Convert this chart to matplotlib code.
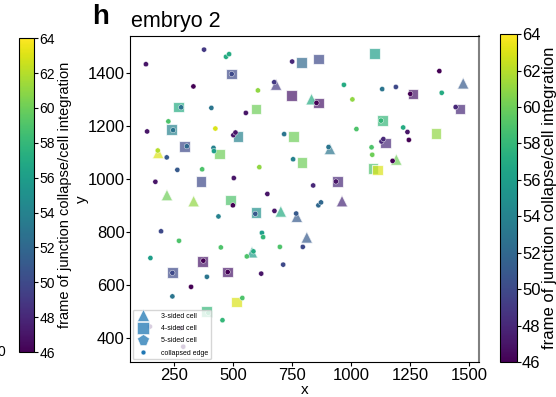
import numpy as np
import matplotlib
matplotlib.use('Agg')
import matplotlib.pyplot as plt
from matplotlib.lines import Line2D

plt.rcParams['font.family'] = ['Liberation Sans', 'DejaVu Sans']

# collapsed edges (circles)
edge_x = [377, 470, 483, 131, 750, 494, 674, 332, 605, 280, 408, 554, 226, 136, 246, 425,
          501, 510, 716, 181, 304, 417, 419, 219, 754, 264, 369, 611, 171, 503, 645,
          1373, 969, 1131, 1189, 1250, 1383, 1005, 853, 1442, 1126, 1022, 1220, 1238,
          1128, 1136, 1244, 904, 1086, 1089, 1175, 935, 839, 861, 872,
          499, 594, 675, 767, 438, 195, 622, 627, 271, 448, 698, 795, 586, 558, 150,
          374, 712, 243, 477, 389, 619, 322, 243, 539, 395, 455, 148, 278, 289]
edge_y = [1489, 1462, 1472, 1434, 1444, 1397, 1366, 1350, 1335, 1271, 1269, 1250, 1218, 1180,
          1185, 1191, 1166, 1176, 1170, 1108, 1124, 1118, 1106, 1082, 1075, 1035, 1037,
          1045, 990, 1004, 944,
          1408, 1356, 1340, 1348, 1322, 1326, 1301, 1288, 1272, 1221, 1189, 1195, 1178,
          1142, 1151, 1148, 1121, 1120, 1092, 1069, 991, 976, 901, 912,
          901, 869, 880, 870, 859, 803, 797, 781, 767, 742, 744, 744, 727, 708, 702,
          692, 677, 646, 649, 631, 643, 593, 557, 551, 495, 467, 443, 437, 367]
edge_frame = [49, 57, 57, 47, 48, 50, 49, 46, 61, 53, 53, 47, 59, 47, 53, 63,
              47, 47, 53, 62, 52, 54, 56, 51, 54, 51, 59, 61, 47, 47, 47,
              46, 57, 53, 50, 46, 57, 61, 46, 48, 58, 59, 57, 47,
              48, 48, 46, 53, 59, 60, 46, 47, 48, 52, 52,
              46, 51, 47, 51, 54, 50, 56, 58, 59, 59, 59, 50, 57, 59, 56,
              46, 50, 50, 46, 53, 47, 46, 53, 59, 58, 58, 47, 47, 47]

# 4-sided cells (squares)
sq_x = [788, 861, 1099, 494, 746, 268, 597, 239, 521, 755, 295, 442, 792, 364, 489,
        1261, 860, 1460, 1131, 1359, 1145, 1092, 1111, 941, 597, 369, 243, 477, 513, 386]
sq_y = [1440, 1454, 1474, 1397, 1317, 1272, 1265, 1186, 1160, 1161, 1124, 1095, 1064, 992, 921,
        1321, 1287, 1265, 1220, 1172, 1136, 1040, 1034, 991, 873, 688, 646, 649, 536, 499]
sq_frame = [52, 50, 56, 50, 47, 57, 60, 54, 54, 60, 50, 60, 60, 50, 59,
            47, 47, 48, 58, 61, 48, 59, 63, 48, 55, 47, 50, 47, 63, 58]

# 3-sided cells (triangles)
tri_x = [682, 183, 220, 333, 1474, 832, 910, 1191, 961, 702, 770, 812, 580]
tri_y = [1357, 1099, 940, 917, 1362, 1302, 1114, 1074, 917, 878, 858, 780, 724]
tri_frame = [49, 63, 60, 61, 51, 57, 53, 60, 48, 57, 51, 51, 56]

vmin, vmax = 46, 64
cmap = 'viridis'

fig = plt.figure(figsize=(5.56, 3.97), dpi=100)
ax = fig.add_axes([0.234, 0.088, 0.628, 0.821])

ax.scatter(sq_x, sq_y, c=sq_frame, cmap=cmap, vmin=vmin, vmax=vmax, marker='s', s=60,
           alpha=0.7, edgecolors='white', linewidths=0.8)
ax.scatter(tri_x, tri_y, c=tri_frame, cmap=cmap, vmin=vmin, vmax=vmax, marker='^', s=70,
           alpha=0.7, edgecolors='white', linewidths=0.8)
sc = ax.scatter(edge_x, edge_y, c=edge_frame, cmap=cmap, vmin=vmin, vmax=vmax, marker='o', s=14,
                edgecolors='white', linewidths=0.3)

ax.set_xlim(64, 1542)
ax.set_ylim(309, 1540)
ax.set_xticks([250, 500, 750, 1000, 1250, 1500])
ax.set_yticks([400, 600, 800, 1000, 1200, 1400])
ax.tick_params(labelsize=12, length=3, width=0.8, pad=1)
ax.set_xlabel('x', fontsize=11, labelpad=0)
ax.set_ylabel('y', fontsize=11)
ax.yaxis.set_label_coords(-0.118, 0.5)
ax.spines['right'].set_color('#808080')
ax.spines['right'].set_linewidth(1.5)

fig.text(0.236, 1 - 27 / 397, 'embryo 2', fontsize=15.5, ha='left', va='baseline')
fig.text(0.165, 1 - 24 / 397, 'h', fontsize=20, fontweight='bold', ha='left', va='baseline')

handles = [
    Line2D([], [], ls='none', marker='^', ms=8, color='#1f77b4', alpha=0.75, mec='white', mew=0.5),
    Line2D([], [], ls='none', marker='s', ms=8, color='#1f77b4', alpha=0.75, mec='white', mew=0.5),
    Line2D([], [], ls='none', marker='p', ms=8.5, color='#1f77b4', alpha=0.75, mec='white', mew=0.5),
    Line2D([], [], ls='none', marker='o', ms=3.5, color='#1f77b4', mec='white', mew=0.3),
]
labels = ['3-sided cell', '4-sided cell', '5-sided cell', 'collapsed edge']
ax.legend(handles, labels, loc='lower left', fontsize=5, framealpha=0.8,
          borderaxespad=0.4, handletextpad=1.6, labelspacing=0.75)

# left colour bar
cax1 = fig.add_axes([0.034, 0.113, 0.027, 0.791])
cb1 = fig.colorbar(sc, cax=cax1, ticks=range(46, 65, 2))
cb1.ax.tick_params(labelsize=10, length=3, pad=1)
cb1.set_label('frame of junction collapse/cell integration', fontsize=10.5, labelpad=2)
cb1.outline.set_linewidth(0.8)

# right colour bar
cax2 = fig.add_axes([0.899, 0.088, 0.030, 0.826])
cb2 = fig.colorbar(sc, cax=cax2, ticks=range(46, 65, 2))
cb2.ax.tick_params(labelsize=12, length=3, pad=1)
cb2.set_label('frame of junction collapse/cell integration', fontsize=12, labelpad=1)
cb2.outline.set_linewidth(0.8)

fig.text(-0.004, 0.113, '0', fontsize=10, ha='left', va='center')

fig.savefig('out.png', dpi=100)
